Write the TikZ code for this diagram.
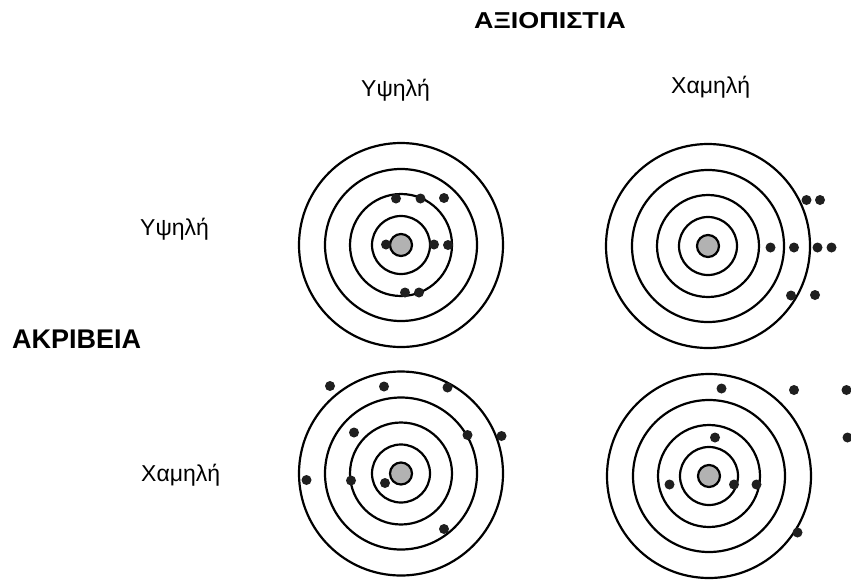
\documentclass[tikz,border=0pt]{standalone}
\usepackage{fontspec}
\setmainfont{Liberation Sans}
\begin{document}
\begin{tikzpicture}[x=1pt,y=-1pt,
  ring/.style={draw=black,line width=2.2pt},
  bull/.style={draw=black,line width=2.2pt,fill=black!30},
  hit/.style={fill=black!88},
  lab/.style={anchor=base west,inner sep=0pt,font=\fontsize{23}{23}\selectfont},
  head/.style={anchor=base west,inner sep=0pt,font=\fontsize{27}{27}\selectfont\bfseries}]
\useasboundingbox[fill=white] (0,0) rectangle (851,579);
\node[anchor=base west,inner sep=0pt,font=\fontsize{23}{23}\selectfont\bfseries] (title) at (474,28) {\scalebox{1.17}[1]{ΑΞΙΟΠΙΣΤΙΑ}};
\node[lab] (th) at (361,96) {Υψηλή};
\node[lab] (tl) at (671,93) {Χαμηλή};
\node[lab] (lh) at (140,235) {Υψηλή};
\node[lab] (ll) at (141,481) {Χαμηλή};
\node[head] (acc) at (12,348) {ΑΚΡΙΒΕΙΑ};
\foreach \cx/\cy/\nm in {401/245/a,708/246/b,401/473.5/c,709/476/d}{
  \draw[ring] (\cx,\cy) circle[radius=102];
  \draw[ring] (\cx,\cy) circle[radius=76];
  \draw[ring] (\cx,\cy) circle[radius=51];
  \draw[ring] (\cx,\cy) circle[radius=29];
  \draw[bull] (\cx,\cy) circle[radius=11];
}
\foreach \px/\py in {396/198.5,420.5/198.5,444/198,386/244.5,434/244.5,448/245,405/292.5,419/292.5,
  806.5/200,820/200,770.5/247.5,794/247.5,817.5/247.5,831.5/247.5,791/295.5,815/295,
  330/386,384/386.5,447.5/387.5,354/432.5,467.5/435,501.5/436,306.5/480,351/480.5,385/483,444/529,
  721.5/388.5,794/390,846.5/390,715/437.5,847.5/437.5,669.5/484.5,734/484.5,756.5/484.5,797.5/532.5}{
  \fill[hit] (\px,\py) circle[radius=5];
}
\end{tikzpicture}
\end{document}
